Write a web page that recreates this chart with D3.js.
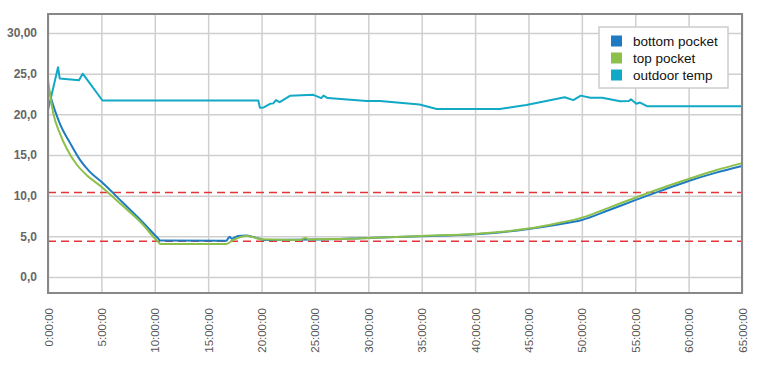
<!DOCTYPE html>
<html>
<head>
<meta charset="utf-8">
<script src="https://cdn.jsdelivr.net/npm/d3@7"></script>
<style>
  body { margin: 0; background: #fff; }
  svg { display: block; font-family: "Liberation Sans", Arial, sans-serif; }
</style>
</head>
<body>
<svg id="chart"></svg>
<script>
// x values are hours since start
const xTicks = [0, 5, 10, 15, 20, 25, 30, 35, 40, 45, 50, 55, 60, 65];
const xTickLabels = ["0:00:00", "5:00:00", "10:00:00", "15:00:00", "20:00:00", "25:00:00", "30:00:00",
  "35:00:00", "40:00:00", "45:00:00", "50:00:00", "55:00:00", "60:00:00", "65:00:00"];
const yTicks = [0, 5, 10, 15, 20, 25, 30];
const yTickLabels = ["0,0", "5,0", "10,0", "15,0", "20,0", "25,0", "30,00"];

const seriesNames = ["bottom pocket", "top pocket", "outdoor temp"];
const seriesColors = ["#1f7bc1", "#8cc04b", "#12a9c6"];

const bottomTime = [0, 0.2, 1.1, 2.1, 3.0, 3.9, 5.0, 7.0, 8.6, 10.3, 10.5, 16.7, 17.0, 17.2, 17.8, 18.6, 19.1, 19.85, 20.2,
  25, 30, 35, 40, 42.5, 45, 47.5, 50, 52.5, 55, 57.5, 60, 62.5, 65];
const bottomValues = [23.5, 22.4, 18.9, 16.4, 14.4, 12.95, 11.7, 9.15, 7.1, 4.76, 4.5, 4.46, 4.95, 4.7, 5.05, 5.1, 4.95, 4.7, 4.55,
  4.6, 4.8, 5.0, 5.25, 5.5, 5.9, 6.4, 7.0, 8.2, 9.45, 10.65, 11.8, 12.8, 13.65];

const topTime = [0, 0.5, 1.1, 1.75, 2.7, 3.6, 5.0, 7.0, 8.6, 10.3, 10.55, 16.7, 17.35, 18.0, 18.6, 19.2, 19.85, 23.6, 24.1, 24.5,
  25.2, 28.3, 30, 35, 40, 42.5, 45, 47.5, 50, 52.5, 55, 57.5, 60, 62.5, 65];
const topValues = [24.2, 20.1, 17.7, 15.8, 13.8, 12.55, 11.1, 8.75, 6.85, 4.35, 4.05, 4.05, 4.55, 4.9, 5.05, 4.9, 4.65, 4.55, 4.8, 4.6,
  4.65, 4.7, 4.8, 5.05, 5.3, 5.55, 5.95, 6.55, 7.3, 8.5, 9.75, 10.95, 12.05, 13.1, 14.0];

const outdoorTime = [0, 0.94, 1.1, 2.9, 3.25, 5.1, 19.7, 19.85, 20.2, 20.8, 21.1, 21.35, 21.7, 22.7, 24.85, 25.6, 25.8, 26.2,
  29.85, 31.1, 34.8, 36.4, 42.3, 44.8, 48.4, 49.2, 49.9, 50.8, 51.9, 53.6, 54.4, 54.6, 55.1, 55.45, 56.1, 65];
const outdoorValues = [20.5, 25.8, 24.4, 24.2, 25.0, 21.7, 21.7, 20.8, 20.85, 21.3, 21.35, 21.75, 21.5, 22.3, 22.4, 22.0, 22.3, 22.0,
  21.65, 21.65, 21.2, 20.65, 20.65, 21.15, 22.1, 21.75, 22.3, 22.05, 22.05, 21.6, 21.65, 21.85, 21.3, 21.45, 21.0, 21.0];

// red limit lines
const limitValues = [10.4, 4.4];

const W = 770, H = 372;
const margin = { top: 14, right: 28, bottom: 79, left: 48 };
const width = W - margin.left - margin.right;
const height = H - margin.top - margin.bottom;

const svg = d3.select("#chart").attr("width", W).attr("height", H);
const g = svg.append("g").attr("transform", `translate(${margin.left},${margin.top})`);

const x = d3.scaleLinear().domain([0, 65]).range([0, width]);
const y = d3.scaleLinear().domain([-1.97, 32.34]).range([height, 0]);

// vertical grid + rotated labels
const xAxis = g.append("g")
  .attr("transform", `translate(0,${height})`)
  .call(d3.axisBottom(x).tickValues(xTicks).tickSize(-height).tickFormat((d, i) => xTickLabels[i]));
xAxis.select(".domain").remove();
xAxis.selectAll("line").attr("stroke", "#cfcfcf").attr("stroke-width", 1.5);
xAxis.selectAll("text")
  .attr("transform", "rotate(-90)")
  .attr("x", -15)
  .attr("y", 0)
  .attr("dy", "0.35em")
  .style("text-anchor", "end")
  .style("font-size", "11.5px")
  .style("fill", "#555");

// horizontal grid + y labels
const yAxis = g.append("g")
  .call(d3.axisLeft(y).tickValues(yTicks).tickSize(-width).tickFormat((d, i) => yTickLabels[i]));
yAxis.select(".domain").remove();
yAxis.selectAll("line").attr("stroke", "#cfcfcf").attr("stroke-width", 1.5);
yAxis.selectAll("text")
  .attr("x", -11)
  .style("font-size", "12px")
  .style("font-weight", "bold")
  .style("fill", "#666");

// limit lines
g.selectAll(".limit")
  .data(limitValues)
  .enter().append("line")
  .attr("class", "limit")
  .attr("x1", 0)
  .attr("x2", width)
  .attr("y1", d => y(d))
  .attr("y2", d => y(d))
  .attr("stroke", "#e3343a")
  .attr("stroke-width", 1.5)
  .attr("stroke-dasharray", "8,5");

const smooth = d3.line().x(d => x(d[0])).y(d => y(d[1])).curve(d3.curveMonotoneX);
const straight = d3.line().x(d => x(d[0])).y(d => y(d[1]));

const zip = (a, b) => a.map((t, i) => [t, b[i]]);

g.append("path")
  .datum(zip(outdoorTime, outdoorValues))
  .attr("fill", "none")
  .attr("stroke", seriesColors[2])
  .attr("stroke-width", 2)
  .attr("stroke-linejoin", "round")
  .attr("d", straight);

g.append("path")
  .datum(zip(bottomTime, bottomValues))
  .attr("fill", "none")
  .attr("stroke", seriesColors[0])
  .attr("stroke-width", 2)
  .attr("d", smooth);

// green drawn last, it sits on top of blue where they overlap
g.append("path")
  .datum(zip(topTime, topValues))
  .attr("fill", "none")
  .attr("stroke", seriesColors[1])
  .attr("stroke-width", 2)
  .attr("d", smooth);

// frame
g.append("rect")
  .attr("x", 0)
  .attr("y", 0)
  .attr("width", width)
  .attr("height", height)
  .attr("fill", "none")
  .attr("stroke", "#888")
  .attr("stroke-width", 2);

// legend
const legend = svg.append("g").attr("transform", "translate(599,27)");
legend.append("rect")
  .attr("width", 129)
  .attr("height", 61)
  .attr("fill", "#fff")
  .attr("stroke", "#cccccc")
  .attr("stroke-width", 1.5);

const item = legend.selectAll(".item")
  .data(seriesNames)
  .enter().append("g")
  .attr("class", "item")
  .attr("transform", (d, i) => `translate(12,${14 + i * 17})`);
item.append("rect")
  .attr("x", 0)
  .attr("y", -5.5)
  .attr("width", 11)
  .attr("height", 11)
  .attr("fill", (d, i) => seriesColors[i]);
item.append("text")
  .attr("x", 22)
  .attr("dy", "0.35em")
  .style("font-size", "13.5px")
  .style("fill", "#111")
  .text(d => d);
</script>
</body>
</html>
